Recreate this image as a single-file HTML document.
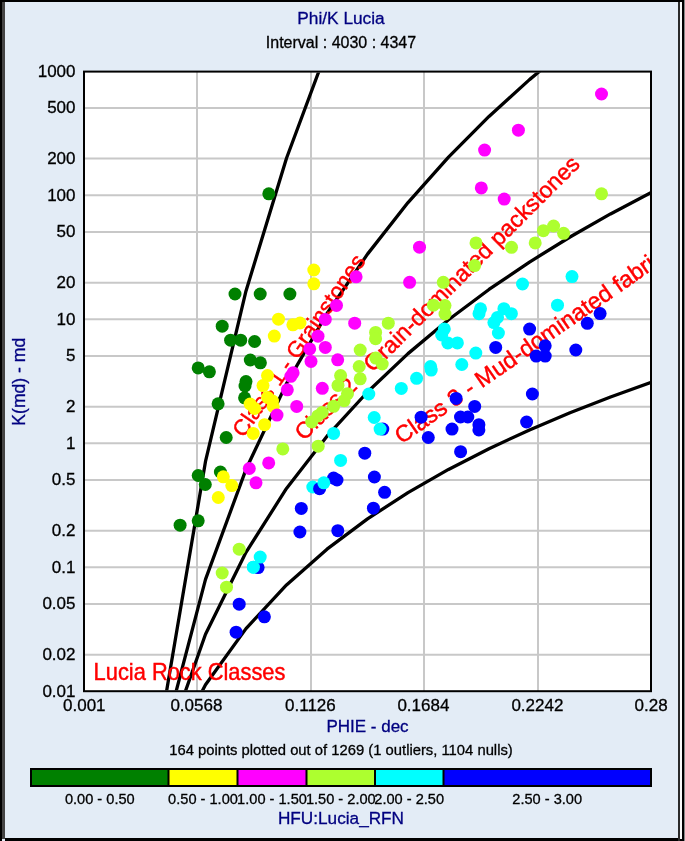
<!DOCTYPE html>
<html><head><meta charset="utf-8"><title>Phi/K Lucia</title>
<style>html,body{margin:0;padding:0;background:#e3ecf6;width:685px;height:841px;overflow:hidden}</style>
</head><body>
<svg width="685" height="841" viewBox="0 0 685 841" style="display:block;filter:blur(0.45px)">
<rect x="0" y="0" width="685" height="841" fill="#e3ecf6"/>
<rect x="0" y="0" width="685" height="2" fill="#000"/>
<rect x="0" y="0" width="2" height="841" fill="#000"/>
<rect x="2" y="2" width="3" height="837" fill="#444"/>
<rect x="5" y="838" width="680" height="3" fill="#000"/>
<rect x="678" y="2" width="2" height="839" fill="#2a2a2a"/>
<rect x="680" y="2" width="2" height="837" fill="#fafafa"/>
<rect x="682" y="0" width="2" height="841" fill="#000"/>
<rect x="684" y="0" width="1" height="841" fill="#888"/>
<rect x="84.0" y="71.6" width="567.0" height="619.6" fill="#fff"/>
<defs><clipPath id="pc"><rect x="85.0" y="72.6" width="565.0" height="617.6"/></clipPath></defs>
<line x1="84.0" y1="107.90" x2="651.0" y2="107.90" stroke="#c8c8c8" stroke-width="2"/>
<line x1="84.0" y1="158.60" x2="651.0" y2="158.60" stroke="#c8c8c8" stroke-width="2"/>
<line x1="84.0" y1="195.20" x2="651.0" y2="195.20" stroke="#c8c8c8" stroke-width="2"/>
<line x1="84.0" y1="231.90" x2="651.0" y2="231.90" stroke="#c8c8c8" stroke-width="2"/>
<line x1="84.0" y1="282.80" x2="651.0" y2="282.80" stroke="#c8c8c8" stroke-width="2"/>
<line x1="84.0" y1="319.30" x2="651.0" y2="319.30" stroke="#c8c8c8" stroke-width="2"/>
<line x1="84.0" y1="355.90" x2="651.0" y2="355.90" stroke="#c8c8c8" stroke-width="2"/>
<line x1="84.0" y1="406.70" x2="651.0" y2="406.70" stroke="#c8c8c8" stroke-width="2"/>
<line x1="84.0" y1="443.30" x2="651.0" y2="443.30" stroke="#c8c8c8" stroke-width="2"/>
<line x1="84.0" y1="479.90" x2="651.0" y2="479.90" stroke="#c8c8c8" stroke-width="2"/>
<line x1="84.0" y1="530.80" x2="651.0" y2="530.80" stroke="#c8c8c8" stroke-width="2"/>
<line x1="84.0" y1="567.30" x2="651.0" y2="567.30" stroke="#c8c8c8" stroke-width="2"/>
<line x1="84.0" y1="604.00" x2="651.0" y2="604.00" stroke="#c8c8c8" stroke-width="2"/>
<line x1="84.0" y1="654.80" x2="651.0" y2="654.80" stroke="#c8c8c8" stroke-width="2"/>
<line x1="197.00" y1="71.6" x2="197.00" y2="691.2" stroke="#c8c8c8" stroke-width="2"/>
<line x1="311.00" y1="71.6" x2="311.00" y2="691.2" stroke="#c8c8c8" stroke-width="2"/>
<line x1="424.00" y1="71.6" x2="424.00" y2="691.2" stroke="#c8c8c8" stroke-width="2"/>
<line x1="538.00" y1="71.6" x2="538.00" y2="691.2" stroke="#c8c8c8" stroke-width="2"/>
<g clip-path="url(#pc)" fill="none" stroke="#000" stroke-width="3.3" stroke-linejoin="round">
<polyline points="124.50,1102.78 165.00,700.43 205.50,461.48 246.00,290.93 286.50,158.21 327.00,49.55 367.50,-42.45 408.00,-122.23 448.50,-192.65 489.00,-255.69 529.50,-312.74 570.00,-364.85 610.50,-412.80 651.00,-457.20"/>
<polyline points="124.50,993.44 165.00,733.69 205.50,579.43 246.00,469.33 286.50,383.65 327.00,313.50 367.50,254.11 408.00,202.60 448.50,157.14 489.00,116.44 529.50,79.61 570.00,45.97 610.50,15.02 651.00,-13.65"/>
<polyline points="124.50,942.59 165.00,749.15 205.50,634.27 246.00,552.28 286.50,488.47 327.00,436.23 367.50,392.00 408.00,353.64 448.50,319.78 489.00,289.47 529.50,262.05 570.00,236.99 610.50,213.94 651.00,192.59"/>
<polyline points="124.50,895.81 165.00,763.38 205.50,684.73 246.00,628.60 286.50,584.91 327.00,549.15 367.50,518.87 408.00,492.61 448.50,469.43 489.00,448.68 529.50,429.90 570.00,412.75 610.50,396.97 651.00,382.35"/>
</g>
<g clip-path="url(#pc)" style='font-family:"Liberation Sans",sans-serif;' fill="#ff0000" stroke="#ff0000" stroke-width="0.45">
<text transform="translate(93.6,679.9) scale(0.95,1)" font-size="23">Lucia Rock Classes</text>
<text transform="translate(243.8,438.6) rotate(-55.4)" font-size="22.45">Class 1 - Grainstones</text>
<text transform="translate(304,441.5) rotate(-44.9)" font-size="23">Class 2 - Grain-dominated packstones</text>
<text transform="translate(401.4,444.4) rotate(-34.8)" font-size="23.2">Class 3 - Mud-dominated fabric</text>
</g>
<g clip-path="url(#pc)">
<circle cx="268.8" cy="193.8" r="6.5" fill="#008000"/>
<circle cx="235.0" cy="294.0" r="6.5" fill="#008000"/>
<circle cx="260.2" cy="294.0" r="6.5" fill="#008000"/>
<circle cx="289.9" cy="294.0" r="6.5" fill="#008000"/>
<circle cx="222.2" cy="326.2" r="6.5" fill="#008000"/>
<circle cx="230.6" cy="340.2" r="6.5" fill="#008000"/>
<circle cx="240.7" cy="340.2" r="6.5" fill="#008000"/>
<circle cx="254.6" cy="341.5" r="6.5" fill="#008000"/>
<circle cx="250.3" cy="360.0" r="6.5" fill="#008000"/>
<circle cx="260.4" cy="362.8" r="6.5" fill="#008000"/>
<circle cx="198.2" cy="367.9" r="6.5" fill="#008000"/>
<circle cx="209.4" cy="371.8" r="6.5" fill="#008000"/>
<circle cx="246.0" cy="381.5" r="6.5" fill="#008000"/>
<circle cx="245.0" cy="386.0" r="6.5" fill="#008000"/>
<circle cx="244.6" cy="397.8" r="6.5" fill="#008000"/>
<circle cx="218.1" cy="403.8" r="6.5" fill="#008000"/>
<circle cx="226.2" cy="437.5" r="6.5" fill="#008000"/>
<circle cx="198.2" cy="475.5" r="6.5" fill="#008000"/>
<circle cx="205.3" cy="484.5" r="6.5" fill="#008000"/>
<circle cx="220.4" cy="472.0" r="6.5" fill="#008000"/>
<circle cx="180.1" cy="525.2" r="6.5" fill="#008000"/>
<circle cx="198.2" cy="520.8" r="6.5" fill="#008000"/>
<circle cx="313.8" cy="270.0" r="6.5" fill="#ffff00"/>
<circle cx="313.8" cy="283.8" r="6.5" fill="#ffff00"/>
<circle cx="278.5" cy="319.2" r="6.5" fill="#ffff00"/>
<circle cx="292.9" cy="324.8" r="6.5" fill="#ffff00"/>
<circle cx="300.0" cy="323.0" r="6.5" fill="#ffff00"/>
<circle cx="274.3" cy="336.1" r="6.5" fill="#ffff00"/>
<circle cx="267.5" cy="375.6" r="6.5" fill="#ffff00"/>
<circle cx="263.0" cy="385.6" r="6.5" fill="#ffff00"/>
<circle cx="267.6" cy="397.4" r="6.5" fill="#ffff00"/>
<circle cx="272.5" cy="401.0" r="6.5" fill="#ffff00"/>
<circle cx="250.1" cy="404.0" r="6.5" fill="#ffff00"/>
<circle cx="254.6" cy="408.5" r="6.5" fill="#ffff00"/>
<circle cx="273.2" cy="406.5" r="6.5" fill="#ffff00"/>
<circle cx="264.6" cy="424.7" r="6.5" fill="#ffff00"/>
<circle cx="253.2" cy="433.4" r="6.5" fill="#ffff00"/>
<circle cx="223.3" cy="476.8" r="6.5" fill="#ffff00"/>
<circle cx="231.8" cy="485.6" r="6.5" fill="#ffff00"/>
<circle cx="218.3" cy="497.5" r="6.5" fill="#ffff00"/>
<circle cx="601.5" cy="94.0" r="6.5" fill="#ff00ff"/>
<circle cx="518.4" cy="130.2" r="6.5" fill="#ff00ff"/>
<circle cx="484.6" cy="150.1" r="6.5" fill="#ff00ff"/>
<circle cx="481.3" cy="187.9" r="6.5" fill="#ff00ff"/>
<circle cx="504.2" cy="199.1" r="6.5" fill="#ff00ff"/>
<circle cx="419.5" cy="247.2" r="6.5" fill="#ff00ff"/>
<circle cx="409.6" cy="282.3" r="6.5" fill="#ff00ff"/>
<circle cx="356.1" cy="276.8" r="6.5" fill="#ff00ff"/>
<circle cx="336.5" cy="305.4" r="6.5" fill="#ff00ff"/>
<circle cx="325.3" cy="319.4" r="6.5" fill="#ff00ff"/>
<circle cx="354.7" cy="323.2" r="6.5" fill="#ff00ff"/>
<circle cx="318.0" cy="336.2" r="6.5" fill="#ff00ff"/>
<circle cx="325.3" cy="347.4" r="6.5" fill="#ff00ff"/>
<circle cx="309.7" cy="348.9" r="6.5" fill="#ff00ff"/>
<circle cx="311.0" cy="361.4" r="6.5" fill="#ff00ff"/>
<circle cx="337.7" cy="359.8" r="6.5" fill="#ff00ff"/>
<circle cx="293.1" cy="372.8" r="6.5" fill="#ff00ff"/>
<circle cx="290.8" cy="376.3" r="6.5" fill="#ff00ff"/>
<circle cx="287.3" cy="389.8" r="6.5" fill="#ff00ff"/>
<circle cx="322.3" cy="388.3" r="6.5" fill="#ff00ff"/>
<circle cx="296.7" cy="406.4" r="6.5" fill="#ff00ff"/>
<circle cx="277.0" cy="415.1" r="6.5" fill="#ff00ff"/>
<circle cx="268.7" cy="462.9" r="6.5" fill="#ff00ff"/>
<circle cx="249.3" cy="468.5" r="6.5" fill="#ff00ff"/>
<circle cx="256.0" cy="482.8" r="6.5" fill="#ff00ff"/>
<circle cx="601.5" cy="193.8" r="6.5" fill="#adff2f"/>
<circle cx="543.4" cy="230.7" r="6.5" fill="#adff2f"/>
<circle cx="553.6" cy="226.0" r="6.5" fill="#adff2f"/>
<circle cx="563.6" cy="233.3" r="6.5" fill="#adff2f"/>
<circle cx="535.2" cy="242.9" r="6.5" fill="#adff2f"/>
<circle cx="511.5" cy="247.3" r="6.5" fill="#adff2f"/>
<circle cx="476.0" cy="242.9" r="6.5" fill="#adff2f"/>
<circle cx="474.6" cy="265.6" r="6.5" fill="#adff2f"/>
<circle cx="443.3" cy="282.3" r="6.5" fill="#adff2f"/>
<circle cx="433.4" cy="305.2" r="6.5" fill="#adff2f"/>
<circle cx="445.0" cy="305.6" r="6.5" fill="#adff2f"/>
<circle cx="445.0" cy="314.0" r="6.5" fill="#adff2f"/>
<circle cx="388.3" cy="323.2" r="6.5" fill="#adff2f"/>
<circle cx="375.6" cy="332.4" r="6.5" fill="#adff2f"/>
<circle cx="375.6" cy="338.7" r="6.5" fill="#adff2f"/>
<circle cx="360.2" cy="350.0" r="6.5" fill="#adff2f"/>
<circle cx="375.8" cy="358.1" r="6.5" fill="#adff2f"/>
<circle cx="382.2" cy="364.0" r="6.5" fill="#adff2f"/>
<circle cx="359.2" cy="366.5" r="6.5" fill="#adff2f"/>
<circle cx="360.2" cy="378.8" r="6.5" fill="#adff2f"/>
<circle cx="340.6" cy="375.6" r="6.5" fill="#adff2f"/>
<circle cx="338.0" cy="385.4" r="6.5" fill="#adff2f"/>
<circle cx="347.5" cy="393.7" r="6.5" fill="#adff2f"/>
<circle cx="344.1" cy="400.7" r="6.5" fill="#adff2f"/>
<circle cx="333.6" cy="406.3" r="6.5" fill="#adff2f"/>
<circle cx="322.2" cy="412.4" r="6.5" fill="#adff2f"/>
<circle cx="317.8" cy="415.9" r="6.5" fill="#adff2f"/>
<circle cx="311.7" cy="422.0" r="6.5" fill="#adff2f"/>
<circle cx="282.8" cy="448.9" r="6.5" fill="#adff2f"/>
<circle cx="318.2" cy="446.2" r="6.5" fill="#adff2f"/>
<circle cx="239.2" cy="549.2" r="6.5" fill="#adff2f"/>
<circle cx="222.2" cy="573.0" r="6.5" fill="#adff2f"/>
<circle cx="226.5" cy="587.2" r="6.5" fill="#adff2f"/>
<circle cx="572.0" cy="276.6" r="6.5" fill="#00ffff"/>
<circle cx="557.5" cy="305.2" r="6.5" fill="#00ffff"/>
<circle cx="522.5" cy="284.0" r="6.5" fill="#00ffff"/>
<circle cx="503.9" cy="308.7" r="6.5" fill="#00ffff"/>
<circle cx="511.4" cy="313.7" r="6.5" fill="#00ffff"/>
<circle cx="497.5" cy="317.4" r="6.5" fill="#00ffff"/>
<circle cx="493.9" cy="322.6" r="6.5" fill="#00ffff"/>
<circle cx="498.4" cy="333.0" r="6.5" fill="#00ffff"/>
<circle cx="480.5" cy="308.8" r="6.5" fill="#00ffff"/>
<circle cx="479.0" cy="313.7" r="6.5" fill="#00ffff"/>
<circle cx="444.3" cy="328.9" r="6.5" fill="#00ffff"/>
<circle cx="441.7" cy="335.0" r="6.5" fill="#00ffff"/>
<circle cx="447.8" cy="342.9" r="6.5" fill="#00ffff"/>
<circle cx="457.4" cy="342.9" r="6.5" fill="#00ffff"/>
<circle cx="475.8" cy="353.1" r="6.5" fill="#00ffff"/>
<circle cx="461.8" cy="364.5" r="6.5" fill="#00ffff"/>
<circle cx="430.6" cy="366.6" r="6.5" fill="#00ffff"/>
<circle cx="431.2" cy="370.1" r="6.5" fill="#00ffff"/>
<circle cx="416.6" cy="378.3" r="6.5" fill="#00ffff"/>
<circle cx="401.3" cy="388.4" r="6.5" fill="#00ffff"/>
<circle cx="368.8" cy="394.0" r="6.5" fill="#00ffff"/>
<circle cx="374.2" cy="417.5" r="6.5" fill="#00ffff"/>
<circle cx="333.6" cy="433.4" r="6.5" fill="#00ffff"/>
<circle cx="340.6" cy="460.4" r="6.5" fill="#00ffff"/>
<circle cx="312.8" cy="487.0" r="6.5" fill="#00ffff"/>
<circle cx="253.4" cy="567.2" r="6.5" fill="#00ffff"/>
<circle cx="600.1" cy="313.6" r="6.5" fill="#0000ff"/>
<circle cx="587.3" cy="323.3" r="6.5" fill="#0000ff"/>
<circle cx="545.2" cy="345.8" r="6.5" fill="#0000ff"/>
<circle cx="536.2" cy="356.1" r="6.5" fill="#0000ff"/>
<circle cx="545.2" cy="356.1" r="6.5" fill="#0000ff"/>
<circle cx="575.8" cy="350.0" r="6.5" fill="#0000ff"/>
<circle cx="529.6" cy="329.1" r="6.5" fill="#0000ff"/>
<circle cx="495.7" cy="347.4" r="6.5" fill="#0000ff"/>
<circle cx="532.4" cy="394.0" r="6.5" fill="#0000ff"/>
<circle cx="526.6" cy="422.0" r="6.5" fill="#0000ff"/>
<circle cx="456.1" cy="398.4" r="6.5" fill="#0000ff"/>
<circle cx="474.7" cy="406.4" r="6.5" fill="#0000ff"/>
<circle cx="460.5" cy="417.0" r="6.5" fill="#0000ff"/>
<circle cx="467.8" cy="417.0" r="6.5" fill="#0000ff"/>
<circle cx="452.0" cy="429.1" r="6.5" fill="#0000ff"/>
<circle cx="478.9" cy="424.7" r="6.5" fill="#0000ff"/>
<circle cx="478.9" cy="429.9" r="6.5" fill="#0000ff"/>
<circle cx="460.6" cy="451.7" r="6.5" fill="#0000ff"/>
<circle cx="421.1" cy="417.2" r="6.5" fill="#0000ff"/>
<circle cx="428.3" cy="437.5" r="6.5" fill="#0000ff"/>
<circle cx="382.8" cy="429.1" r="6.5" fill="#0000ff"/>
<circle cx="364.8" cy="453.2" r="6.5" fill="#0000ff"/>
<circle cx="374.4" cy="477.0" r="6.5" fill="#0000ff"/>
<circle cx="384.6" cy="492.3" r="6.5" fill="#0000ff"/>
<circle cx="373.4" cy="508.2" r="6.5" fill="#0000ff"/>
<circle cx="333.6" cy="478.1" r="6.5" fill="#0000ff"/>
<circle cx="337.0" cy="480.0" r="6.5" fill="#0000ff"/>
<circle cx="319.6" cy="488.7" r="6.5" fill="#0000ff"/>
<circle cx="301.3" cy="508.4" r="6.5" fill="#0000ff"/>
<circle cx="299.9" cy="532.0" r="6.5" fill="#0000ff"/>
<circle cx="337.8" cy="530.7" r="6.5" fill="#0000ff"/>
<circle cx="258.1" cy="567.6" r="6.5" fill="#0000ff"/>
<circle cx="239.2" cy="604.2" r="6.5" fill="#0000ff"/>
<circle cx="264.4" cy="616.8" r="6.5" fill="#0000ff"/>
<circle cx="236.1" cy="632.2" r="6.5" fill="#0000ff"/>
<circle cx="380.1" cy="429.1" r="6.5" fill="#00ffff"/>
<circle cx="323.8" cy="482.8" r="6.5" fill="#00ffff"/>
<circle cx="260.2" cy="557.1" r="6.5" fill="#00ffff"/>
<circle cx="253.4" cy="567.2" r="6.5" fill="#00ffff"/>
</g>
<rect x="84.0" y="71.6" width="567.0" height="619.6" fill="none" stroke="#000" stroke-width="2"/>
<g style='font-family:"Liberation Sans",sans-serif;' fill="#000" stroke="#000" stroke-width="0.3" font-size="17">
<text x="75.5" y="76.6" text-anchor="end">1000</text>
<text x="75.5" y="113.3" text-anchor="end">500</text>
<text x="75.5" y="164.0" text-anchor="end">200</text>
<text x="75.5" y="200.6" text-anchor="end">100</text>
<text x="75.5" y="237.3" text-anchor="end">50</text>
<text x="75.5" y="288.2" text-anchor="end">20</text>
<text x="75.5" y="324.7" text-anchor="end">10</text>
<text x="75.5" y="361.3" text-anchor="end">5</text>
<text x="75.5" y="412.1" text-anchor="end">2</text>
<text x="75.5" y="448.7" text-anchor="end">1</text>
<text x="75.5" y="485.3" text-anchor="end">0.5</text>
<text x="75.5" y="536.2" text-anchor="end">0.2</text>
<text x="75.5" y="572.7" text-anchor="end">0.1</text>
<text x="75.5" y="609.4" text-anchor="end">0.05</text>
<text x="75.5" y="660.2" text-anchor="end">0.02</text>
<text x="75.5" y="696.7" text-anchor="end">0.01</text>
<text x="84.3" y="710.9" text-anchor="middle">0.001</text>
<text x="196.4" y="710.9" text-anchor="middle">0.0568</text>
<text x="310.4" y="710.9" text-anchor="middle">0.1126</text>
<text x="423.4" y="710.9" text-anchor="middle">0.1684</text>
<text x="537.4" y="710.9" text-anchor="middle">0.2242</text>
<text x="651.1" y="710.9" text-anchor="middle">0.28</text>
</g>
<text x="341" y="23.5" text-anchor="middle" font-size="17.3" fill="#000080" stroke="#000080" stroke-width="0.3" style='font-family:"Liberation Sans",sans-serif;'>Phi/K Lucia</text>
<text x="341" y="47.5" text-anchor="middle" font-size="16" fill="#000" stroke="#000" stroke-width="0.3" style='font-family:"Liberation Sans",sans-serif;'>Interval : 4030 : 4347</text>
<text x="367.5" y="731.9" text-anchor="middle" font-size="17" fill="#000080" stroke="#000080" stroke-width="0.3" style='font-family:"Liberation Sans",sans-serif;'>PHIE - dec</text>
<text transform="translate(25.3,381.7) rotate(-90)" text-anchor="middle" font-size="17.6" fill="#000080" stroke="#000080" stroke-width="0.3" style='font-family:"Liberation Sans",sans-serif;'>K(md) - md</text>
<text x="341" y="754.5" text-anchor="middle" font-size="14.8" fill="#000" stroke="#000" stroke-width="0.3" style='font-family:"Liberation Sans",sans-serif;'>164 points plotted out of 1269 (1 outliers, 1104 nulls)</text>
<text x="341" y="823.8" text-anchor="middle" font-size="17.2" fill="#000080" stroke="#000080" stroke-width="0.3" style='font-family:"Liberation Sans",sans-serif;'>HFU:Lucia_RFN</text>
<rect x="31" y="769" width="137.5" height="17" fill="#008000"/>
<rect x="168.5" y="769" width="69.0" height="17" fill="#ffff00"/>
<rect x="237.5" y="769" width="69.0" height="17" fill="#ff00ff"/>
<rect x="306.5" y="769" width="68.5" height="17" fill="#adff2f"/>
<rect x="375" y="769" width="68.5" height="17" fill="#00ffff"/>
<rect x="443.5" y="769" width="207.5" height="17" fill="#0000ff"/>
<line x1="168.5" y1="769" x2="168.5" y2="786" stroke="#000" stroke-width="2"/>
<line x1="237.5" y1="769" x2="237.5" y2="786" stroke="#000" stroke-width="2"/>
<line x1="306.5" y1="769" x2="306.5" y2="786" stroke="#000" stroke-width="2"/>
<line x1="375" y1="769" x2="375" y2="786" stroke="#000" stroke-width="2"/>
<line x1="443.5" y1="769" x2="443.5" y2="786" stroke="#000" stroke-width="2"/>
<rect x="31" y="769" width="620" height="17" fill="none" stroke="#000" stroke-width="2"/>
<g style='font-family:"Liberation Sans",sans-serif;' fill="#000" stroke="#000" stroke-width="0.3" font-size="14.6" text-anchor="middle">
<text x="99.8" y="803.6">0.00 - 0.50</text>
<text x="203.0" y="803.6">0.50 - 1.00</text>
<text x="272.0" y="803.6">1.00 - 1.50</text>
<text x="340.8" y="803.6">1.50 - 2.00</text>
<text x="409.2" y="803.6">2.00 - 2.50</text>
<text x="547.2" y="803.6">2.50 - 3.00</text>
</g>
</svg>
</body></html>
